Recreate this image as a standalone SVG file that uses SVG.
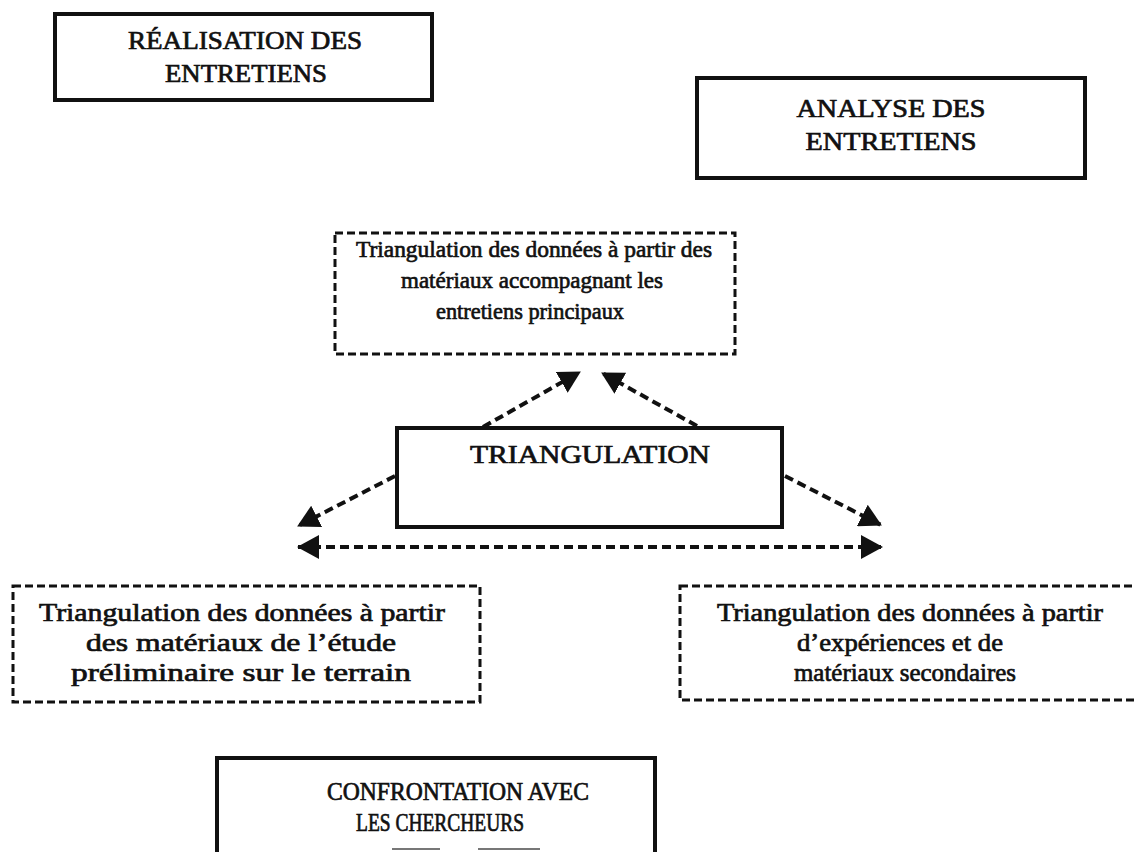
<svg xmlns="http://www.w3.org/2000/svg" width="1135" height="852" viewBox="0 0 1135 852">
  <style>
    .box { fill: #fff; stroke: #111; stroke-width: 4; }
    .dbox { fill: #fff; stroke: #111; stroke-width: 3; stroke-dasharray: 8 4; }
    .link { fill: none; stroke: #111; stroke-width: 4; stroke-dasharray: 9 5; }
    .t { font-family: "Liberation Serif", "Times New Roman", serif; fill: #111; stroke: #111; stroke-width: 0.7; text-anchor: middle; }
    .caps { font-size: 25px; }
    .low { font-size: 25px; }
    .small { font-size: 24px; }
  </style>
  <defs>
    <marker id="head" viewBox="0 0 22 24" refX="21" refY="12" markerWidth="22" markerHeight="24" markerUnits="userSpaceOnUse" orient="auto-start-reverse">
      <path d="M0,0 L22,12 L0,24 Z" fill="#111"/>
    </marker>
  </defs>

  <rect width="1135" height="852" fill="#fff"/>

  <!-- connectors -->
  <g id="connectors">
    <line class="link" x1="483" y1="427" x2="580" y2="372" marker-end="url(#head)"/>
    <line class="link" x1="697" y1="426" x2="602" y2="373" marker-end="url(#head)"/>
    <line class="link" x1="395" y1="476" x2="298" y2="526" marker-end="url(#head)"/>
    <line class="link" x1="785" y1="476" x2="881" y2="525" marker-end="url(#head)"/>
    <line class="link" x1="298" y1="547" x2="882" y2="547" marker-start="url(#head)" marker-end="url(#head)"/>
  </g>

  <g id="realisation">
    <rect class="box" x="55" y="14" width="377" height="86"/>
    <text class="t caps" x="245" y="49" textLength="234" lengthAdjust="spacingAndGlyphs">RÉALISATION DES</text>
    <text class="t caps" x="246" y="82" textLength="162" lengthAdjust="spacingAndGlyphs">ENTRETIENS</text>
  </g>

  <g id="analyse">
    <rect class="box" x="697" y="78" width="388" height="100"/>
    <text class="t caps" x="891" y="117" textLength="189" lengthAdjust="spacingAndGlyphs">ANALYSE DES</text>
    <text class="t caps" x="891" y="150" textLength="171" lengthAdjust="spacingAndGlyphs">ENTRETIENS</text>
  </g>

  <g id="materiaux-principaux">
    <rect class="dbox" x="335" y="233" width="400" height="121"/>
    <text class="t small" x="534" y="257" textLength="356" lengthAdjust="spacingAndGlyphs">Triangulation des données à partir des</text>
    <text class="t small" x="532" y="288" textLength="262" lengthAdjust="spacingAndGlyphs">matériaux accompagnant les</text>
    <text class="t small" x="530" y="319" textLength="188" lengthAdjust="spacingAndGlyphs">entretiens principaux</text>
  </g>

  <g id="triangulation">
    <rect class="box" x="397" y="428" width="385" height="99"/>
    <text class="t caps" x="590" y="463" textLength="240" lengthAdjust="spacingAndGlyphs">TRIANGULATION</text>
  </g>

  <g id="etude-preliminaire">
    <rect class="dbox" x="13" y="586" width="467" height="116"/>
    <text class="t low" x="242" y="621" textLength="406" lengthAdjust="spacingAndGlyphs">Triangulation des données à partir</text>
    <text class="t low" x="241" y="651" textLength="310" lengthAdjust="spacingAndGlyphs">des matériaux de l’étude</text>
    <text class="t low" x="241" y="681" textLength="340" lengthAdjust="spacingAndGlyphs">préliminaire sur le terrain</text>
  </g>

  <g id="materiaux-secondaires">
    <rect class="dbox" x="680" y="586" width="470" height="114"/>
    <text class="t low" x="910" y="621" textLength="386" lengthAdjust="spacingAndGlyphs">Triangulation des données à partir</text>
    <text class="t low" x="900" y="651" textLength="206" lengthAdjust="spacingAndGlyphs">d’expériences et de</text>
    <text class="t low" x="905" y="681" textLength="222" lengthAdjust="spacingAndGlyphs">matériaux secondaires</text>
  </g>

  <g id="confrontation">
    <path d="M217,852 V758 H655 V852" fill="#fff" stroke="#111" stroke-width="4"/>
    <path d="M392,849 H440 M478,849 H540" stroke="#777" stroke-width="2"/>
    <text class="t caps" x="458" y="800" textLength="262" lengthAdjust="spacingAndGlyphs">CONFRONTATION AVEC</text>
    <text class="t caps" x="440" y="831" textLength="168" lengthAdjust="spacingAndGlyphs">LES CHERCHEURS</text>
  </g>
</svg>
